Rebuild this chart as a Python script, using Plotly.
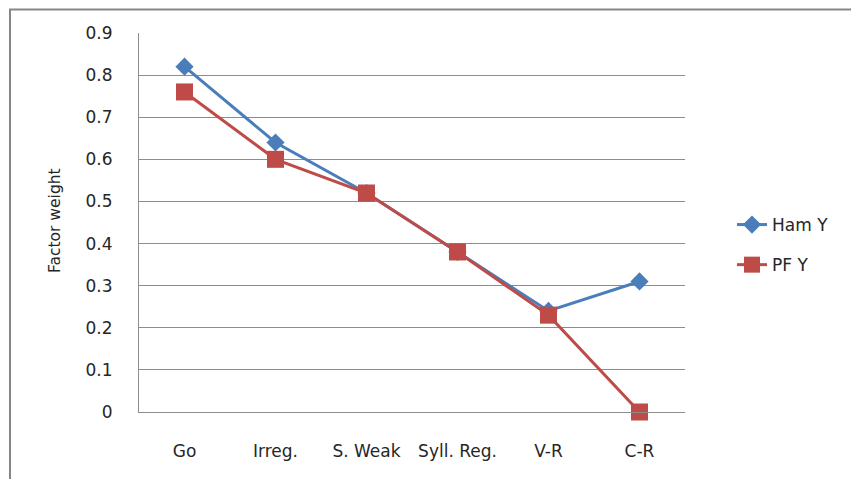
import plotly.graph_objects as go

categories = ["Go", "Irreg.", "S. Weak", "Syll. Reg.", "V-R", "C-R"]
ham_y = [0.82, 0.64, 0.52, 0.38, 0.24, 0.31]
pf_y = [0.76, 0.60, 0.52, 0.38, 0.23, 0.0]
y_ticks = [0, 0.1, 0.2, 0.3, 0.4, 0.5, 0.6, 0.7, 0.8, 0.9]
y_ticktext = ["0", "0.1", "0.2", "0.3", "0.4", "0.5", "0.6", "0.7", "0.8", "0.9"]

W, H = 851, 479
L, R, T, B = 139, 166, 33, 67
pw, ph = W - L - R, H - T - B

def px_x(x):
    return (x - L) / pw

def px_y(y):
    return (H - B - y) / ph

FONT = "'DejaVu Sans', Verdana, sans-serif"
TXT = "#262626"

fig = go.Figure()
fig.add_trace(go.Scatter(
    x=categories, y=ham_y, name="Ham Y", mode="lines+markers",
    line=dict(color="#4A7EBB", width=3),
    marker=dict(symbol="diamond", size=14, color="#4A7EBB"),
    legendgroup="a", cliponaxis=False,
))
fig.add_trace(go.Scatter(
    x=categories, y=pf_y, name="PF Y", mode="lines+markers",
    line=dict(color="#BE4B48", width=3),
    marker=dict(symbol="square", size=17, color="#BE4B48"),
    legendgroup="b", cliponaxis=False,
))

fig.update_layout(
    width=W, height=H,
    margin=dict(l=L, r=R, t=T, b=B, pad=0),
    paper_bgcolor="white", plot_bgcolor="white",
    font=dict(family=FONT, size=17, color=TXT),
    showlegend=True,
    legend=dict(
        x=px_x(732), y=px_y(245), xanchor="left", yanchor="middle",
        font=dict(size=17, color=TXT), tracegroupgap=15,
        bgcolor="rgba(0,0,0,0)",
    ),
    xaxis=dict(
        type="category", range=[-0.5, 5.5], showgrid=False,
        showline=True, linecolor="#8c8c8c", linewidth=1,
        ticks="", ticklabelstandoff=24, fixedrange=True,
        tickfont=dict(size=17),
    ),
    yaxis=dict(
        range=[0, 0.9], tickvals=y_ticks, ticktext=y_ticktext,
        showgrid=True, gridcolor="#8c8c8c", gridwidth=1,
        showline=True, linecolor="#8c8c8c", linewidth=1,
        ticks="", ticklabelstandoff=22, zeroline=False,
        tickfont=dict(size=17),
    ),
    annotations=[dict(
        text="Factor weight", xref="paper", yref="paper",
        x=px_x(55), y=px_y(221), textangle=-90, showarrow=False,
        xanchor="center", yanchor="middle", font=dict(size=15.5, color=TXT),
    )],
    shapes=[dict(
        type="path", xref="paper", yref="paper",
        path=f"M {px_x(10)} {px_y(490)} L {px_x(10)} {px_y(9.5)} L {px_x(860)} {px_y(9.5)}",
        line=dict(color="#868686", width=2),
    )],
)

fig.write_html("out.html")
